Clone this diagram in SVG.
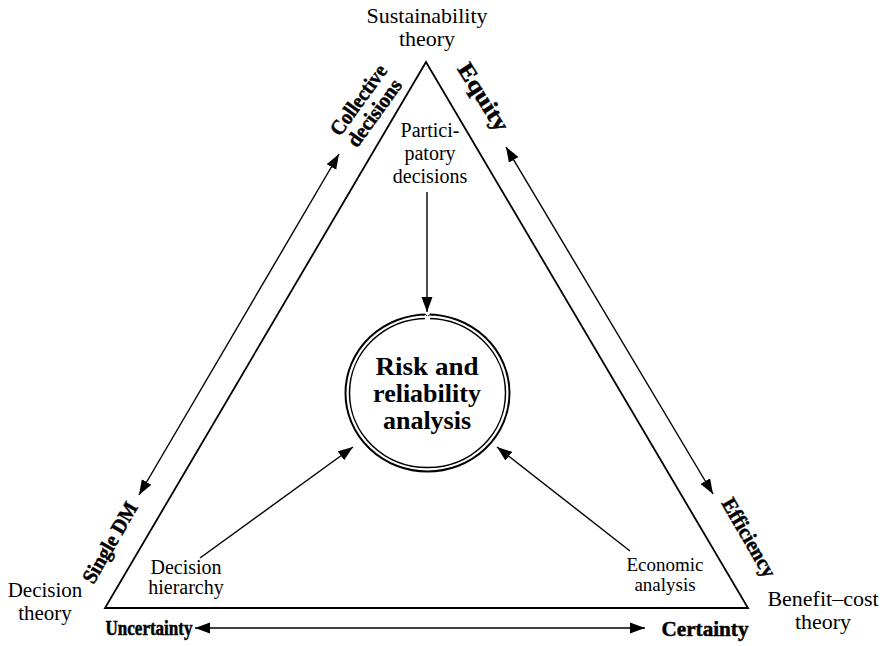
<svg xmlns="http://www.w3.org/2000/svg" width="883" height="646" viewBox="0 0 883 646">
<style>
.t{font-family:"Liberation Serif","Times New Roman",serif;fill:#000;text-anchor:middle}
.b{font-family:"Liberation Serif","Times New Roman",serif;font-weight:bold;fill:#000;stroke:#000;stroke-width:0.5;text-anchor:middle}
.c{font-family:"Liberation Serif","Times New Roman",serif;font-weight:bold;font-size:26px;fill:#000;text-anchor:middle}
.ln{stroke:#000;stroke-width:1.4;fill:none}
.tri{stroke:#000;stroke-width:1.8;fill:none;stroke-linejoin:miter}
</style>
<defs>
<marker id="ah" markerUnits="userSpaceOnUse" markerWidth="16" markerHeight="12" refX="15" refY="6" orient="auto-start-reverse" viewBox="0 0 16 12">
<path d="M0,0.5 L15,6 L0,11.5 z" fill="#000"/>
</marker>
</defs>
<rect width="883" height="646" fill="#fff"/>

<g id="triangle">
<path class="tri" d="M426,62 L105,608 L748,608 Z"/>
</g>

<g id="center-node">
<ellipse cx="427.5" cy="393" rx="82" ry="78.5" fill="#fff" stroke="#000" stroke-width="2"/>
<ellipse cx="427.5" cy="393" rx="78" ry="74.5" fill="none" stroke="#000" stroke-width="1.5"/>
<rect x="425" y="312" width="5" height="8" fill="#fff"/>
<path d="M423,315 q3,-2 4,1 M428,316 q2,-3 5,-1" stroke="#000" stroke-width="1" fill="none"/>
<text class="c" x="427" y="375" textLength="103" lengthAdjust="spacingAndGlyphs">Risk and</text>
<text class="c" x="427" y="402">reliability</text>
<text class="c" x="427" y="429">analysis</text>
</g>

<g id="top-node">
<text class="t" x="427" y="23" style="font-size:22px">Sustainability</text>
<text class="t" x="427" y="46" style="font-size:22px">theory</text>
</g>
<g id="left-node">
<text class="t" x="45" y="597" style="font-size:21px">Decision</text>
<text class="t" x="45" y="620" style="font-size:21px">theory</text>
</g>
<g id="right-node">
<text class="t" x="823" y="606" style="font-size:22px">Benefit–cost</text>
<text class="t" x="823" y="629" style="font-size:22px">theory</text>
</g>
<g id="participatory">
<text class="t" x="430" y="137" style="font-size:20px">Partici-</text>
<text class="t" x="430" y="160" style="font-size:20px">patory</text>
<text class="t" x="430" y="183" style="font-size:20px">decisions</text>
</g>
<g id="hierarchy">
<text class="t" x="186" y="574" style="font-size:20px">Decision</text>
<text class="t" x="186" y="594" style="font-size:20px">hierarchy</text>
</g>
<g id="economic">
<text class="t" x="665" y="571" style="font-size:19px">Economic</text>
<text class="t" x="665" y="591" style="font-size:19px">analysis</text>
</g>

<g id="axis-labels">
<text class="b" transform="translate(364,104) rotate(-54)" style="font-size:21px" textLength="82" lengthAdjust="spacingAndGlyphs">Collective</text>
<text class="b" transform="translate(380,117) rotate(-54)" style="font-size:21px" textLength="78" lengthAdjust="spacingAndGlyphs">decisions</text>
<text class="b" transform="translate(477,101) rotate(58)" style="font-size:23px" textLength="76" lengthAdjust="spacingAndGlyphs">Equity</text>
<text class="b" transform="translate(116,546) rotate(-60)" style="font-size:21px" textLength="90" lengthAdjust="spacingAndGlyphs">Single DM</text>
<text class="b" transform="translate(743,541) rotate(60)" style="font-size:21px" textLength="88" lengthAdjust="spacingAndGlyphs">Efficiency</text>
<text class="b" x="149" y="635" style="font-size:20px" textLength="87" lengthAdjust="spacingAndGlyphs">Uncertainty</text>
<text class="b" x="705" y="636" style="font-size:22px" textLength="87" lengthAdjust="spacingAndGlyphs">Certainty</text>
</g>

<g id="connectors">
<line class="ln" x1="427" y1="192" x2="427" y2="312" marker-end="url(#ah)"/>
<line class="ln" x1="200" y1="558" x2="353" y2="447" marker-end="url(#ah)"/>
<line class="ln" x1="630" y1="551" x2="497" y2="447" marker-end="url(#ah)"/>
<line class="ln" x1="339" y1="154" x2="139" y2="495" marker-start="url(#ah)" marker-end="url(#ah)"/>
<line class="ln" x1="506" y1="147" x2="713" y2="494" marker-start="url(#ah)" marker-end="url(#ah)"/>
<line class="ln" x1="195" y1="628" x2="645" y2="628" marker-start="url(#ah)" marker-end="url(#ah)"/>
</g>
</svg>
